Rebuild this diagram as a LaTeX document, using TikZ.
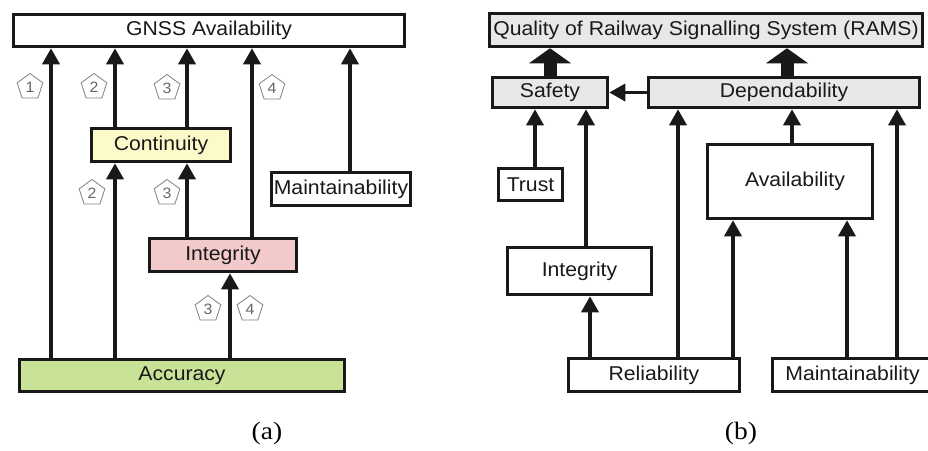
\documentclass[tikz,border=0pt]{standalone}
\usepackage{fontspec}
\setmainfont{Liberation Sans}[FakeStretch=1.06]
\newfontfamily\capfont{Liberation Serif}[FakeStretch=1.1]
\usetikzlibrary{arrows.meta,shapes.geometric}
\definecolor{cyel}{RGB}{252,250,200}
\definecolor{cpink}{RGB}{242,202,202}
\definecolor{cgreen}{RGB}{200,226,152}
\definecolor{cgray}{RGB}{232,232,232}
\begin{document}
\begin{tikzpicture}[x=1pt,y=-1pt,
  box/.style={draw=black!90, line width=3.5pt, inner sep=0pt, font=\fontsize{20}{24}\selectfont, text=black!90},
  arr/.style={line width=3.4pt, black!90, -{Triangle[length=16pt,width=17pt]}},
  pent/.style={regular polygon, regular polygon sides=5, draw=black!50, line width=0.8pt, minimum size=27pt, inner sep=0pt, text=black!60, font=\fontsize{15}{16}\selectfont},
  big/.style={line width=13pt, black!90, -{Triangle[length=15pt,width=42pt,line width=0pt]}},
  captext/.style={font=\capfont\fontsize{25}{28}\selectfont}]
\useasboundingbox (0,0) rectangle (928,450);
\fill[white] (0,0) rectangle (928,450);
% ---------- panel (a)
\node[box, minimum width=391pt, minimum height=32pt] (gnss) at (209,30.5) {GNSS Availability};
\node[box, fill=cyel, minimum width=139pt, minimum height=33pt] (cont) at (161,145) {Continuity};
\node[box, minimum width=139pt, minimum height=33pt] (maina) at (341,189) {Maintainability};
\node[box, fill=cpink, minimum width=147pt, minimum height=33pt] (inta) at (223,255) {Integrity};
\node[box, fill=cgreen, minimum width=325pt, minimum height=32pt] (acc) at (182,375.5) {Accuracy};
\coordinate (x1) at (51,0);
\coordinate (x2) at (115,0);
\coordinate (x3) at (187,0);
\coordinate (x4) at (252,0);
\coordinate (x5) at (350,0);
\coordinate (x6) at (230,0);
\draw[arr] (acc.north -| x1) -- (gnss.south -| x1);
\draw[arr] (acc.north -| x2) -- (cont.south -| x2);
\draw[arr] (cont.north -| x2) -- (gnss.south -| x2);
\draw[arr] (inta.north -| x3) -- (cont.south -| x3);
\draw[arr] (cont.north -| x3) -- (gnss.south -| x3);
\draw[arr] (inta.north -| x4) -- (gnss.south -| x4);
\draw[arr] (maina.north -| x5) -- (gnss.south -| x5);
\draw[arr] (acc.north -| x6) -- (inta.south -| x6);
\node[pent] (p1) at (30,87) {1};
\node[pent] (p2) at (94,87) {2};
\node[pent] (p3) at (167,88) {3};
\node[pent] (p4) at (272,88) {4};
\node[pent] (p5) at (92,193) {2};
\node[pent] (p6) at (167,193) {3};
\node[pent] (p7) at (208,309) {3};
\node[pent] (p8) at (250,309) {4};
\node[captext] (capa) at (267,433) {(a)};
% ---------- panel (b)
\node[box, fill=cgray, minimum width=433pt, minimum height=33pt] (qual) at (706,30) {Quality of Railway Signalling System (RAMS)};
\node[box, fill=cgray, minimum width=115pt, minimum height=30pt] (safe) at (550,92.5) {Safety};
\node[box, fill=cgray, minimum width=271pt, minimum height=30pt] (dep) at (784,92.5) {Dependability};
\node[box, minimum width=64pt, minimum height=32pt] (trust) at (530.5,184.5) {Trust};
\node[box, minimum width=165pt, minimum height=74pt] (avail) at (790,181.5) {\hspace*{10pt}Availability};
\node[box, minimum width=144pt, minimum height=47pt] (intb) at (579.5,271) {Integrity};
\node[box, minimum width=171pt, minimum height=33pt] (rel) at (654,375) {Reliability};
\node[box, minimum width=160pt, minimum height=33pt] (mainb) at (852.5,375) {Maintainability};
\coordinate (b1) at (787,0);
\coordinate (b2) at (535,0);
\coordinate (b3) at (586,0);
\coordinate (b4) at (590,0);
\coordinate (b5) at (678,0);
\coordinate (b6) at (733,0);
\coordinate (b7) at (792,0);
\coordinate (b8) at (847,0);
\coordinate (b9) at (897,0);
\draw[big] (safe.north) -- (qual.south -| safe.north);
\draw[big] (dep.north -| b1) -- (qual.south -| b1);
\draw[arr] (dep.west) -- (safe.east);
\draw[arr] (trust.north -| b2) -- (safe.south -| b2);
\draw[arr] (intb.north -| b3) -- (safe.south -| b3);
\draw[arr] (rel.north -| b4) -- (intb.south -| b4);
\draw[arr] (rel.north -| b5) -- (dep.south -| b5);
\draw[arr] (rel.north -| b6) -- (avail.south -| b6);
\draw[arr] (avail.north -| b7) -- (dep.south -| b7);
\draw[arr] (mainb.north -| b8) -- (avail.south -| b8);
\draw[arr] (mainb.north -| b9) -- (dep.south -| b9);
\node[captext] (capb) at (741,433) {(b)};
\end{tikzpicture}
\end{document}
